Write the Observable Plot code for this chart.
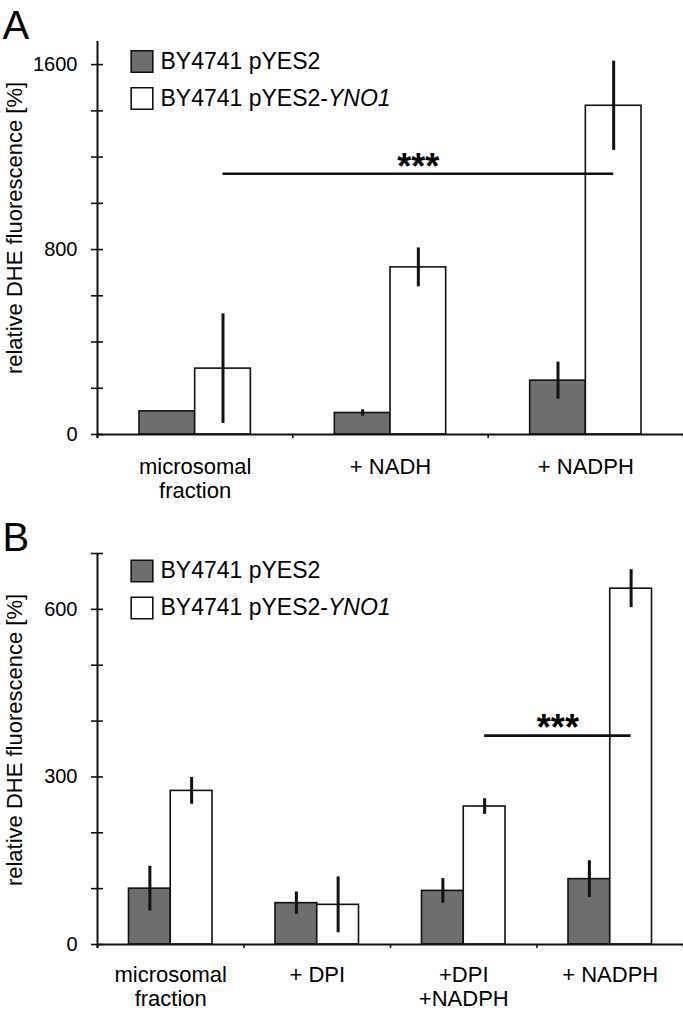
<!DOCTYPE html>
<html><head><meta charset="utf-8">
<script src="https://cdn.jsdelivr.net/npm/d3@7"></script>
<script src="https://cdn.jsdelivr.net/npm/@observablehq/plot@0.6"></script>
<style>
body{margin:0;background:#fff;}
#fig{width:683px;}
#fig svg{display:block;}
</style></head><body><div id="fig"></div>
<script>
// ---------- data ----------
const seriesNames = ["BY4741 pYES2", "BY4741 pYES2-YNO1"];
const yLabel = "relative DHE fluorescence [%]";

// Panel A
const catsA = ["microsomal\nfraction", "+ NADH", "+ NADPH"];
const ctrlA = [100, 93, 233];
const ctrlErrA = [0, 14, 80];
const ynoA = [285, 723, 1422];
const ynoErrA = [237, 84, 193];
const yTicksA = [0, 200, 400, 600, 800, 1000, 1200, 1400, 1600];
const yLabelsA = [0, 800, 1600];
const sigA = {from: 0, to: 2, y: 1128, text: "***"};

// Panel B
const catsB = ["microsomal\nfraction", "+ DPI", "+DPI\n+NADPH", "+ NADPH"];
const ctrlB = [100, 74, 96, 117];
const ctrlErrB = [40, 20, 22, 33];
const ynoB = [275, 71, 247, 637];
const ynoErrB = [24, 50, 14, 34];
const yTicksB = [0, 100, 200, 300, 400, 500, 600, 700];
const yLabelsB = [0, 300, 600];
const sigB = {from: 2, to: 3, y: 374, text: "***"};

// ---------- layout / style ----------
const FONT = "'Liberation Sans', Arial, Helvetica, sans-serif";
const GRAY = "#6e6e6e";
const INK = "#111";
const BAR_OFFSET = 0.215;   // left gap inside each category band
const BAR_W = 0.285;        // width of one bar as a share of the band

function panel(cfg) {
  const n = cfg.cats.length;
  const rows = [];
  cfg.cats.forEach((c, i) => {
    [[cfg.ctrl, cfg.ctrlErr], [cfg.yno, cfg.ynoErr]].forEach(([v, e], s) => {
      rows.push({cat: c, i, s, series: seriesNames[s], value: v[i], err: e[i]});
    });
  });
  const bx1 = d => d.i + BAR_OFFSET + d.s * BAR_W;
  const bx2 = d => bx1(d) + BAR_W;
  const bcx = d => bx1(d) + BAR_W / 2;
  const whiteCenter = i => i + BAR_OFFSET + 1.5 * BAR_W;

  const legendMarks = seriesNames.flatMap((name, k) => [
    Plot.dot([name], {frameAnchor: "top-left", dx: 44.5, dy: cfg.legendDy + k * 37,
      symbol: "square", r: 12.2, fill: d => d, stroke: INK, strokeWidth: 1.6}),
    Plot.text([name], {frameAnchor: "top-left", dx: 63, dy: cfg.legendDy + k * 37,
      textAnchor: "start", lineAnchor: "middle", fontSize: 23, fill: "#000"})
  ]);

  const chart = Plot.plot({
    width: 683,
    height: cfg.height,
    marginLeft: 97,
    marginRight: 0,
    marginTop: cfg.marginTop,
    marginBottom: cfg.marginBottom,
    style: {fontFamily: FONT, fontSize: "20px", background: "#fff", overflow: "visible", color: "#000"},
    x: {domain: [0, n], axis: null},
    y: {domain: [0, cfg.yMax], axis: null},
    color: {domain: seriesNames, range: [GRAY, "#ffffff"]},
    marks: [
      // bars
      Plot.rectY(rows, {x1: bx1, x2: bx2, y1: 0, y2: "value", fill: "series", stroke: INK, strokeWidth: 1.6}),
      // error bars
      Plot.ruleX(rows.filter(d => d.err > 0), {x: bcx, y1: d => d.value + d.err, y2: d => d.value - d.err,
        stroke: INK, strokeWidth: 3}),
      // x axis line and category boundary ticks
      Plot.ruleY([0], {stroke: INK, strokeWidth: 2}),
      Plot.ruleX(d3.range(n + 1), {x: d => d, y1: 0, y2: 0, insetBottom: -4, stroke: INK, strokeWidth: 1.6}),
      // y axis line with crossing ticks
      Plot.ruleX([0], {x: d => d, y1: cfg.yMax, y2: 0, insetBottom: -4, stroke: INK, strokeWidth: 2}),
      Plot.ruleY(cfg.yTicks, {y: d => d, x1: 0, x2: 0, insetLeft: -6, insetRight: -6, stroke: INK, strokeWidth: 1.6}),
      Plot.text(cfg.yLabels, {x: 0, y: d => d, text: d => String(d), dx: -20, textAnchor: "end", fontSize: 20}),
      // category labels
      Plot.text(cfg.cats, {x: (d, i) => i + 0.5, y: 0, text: d => d, dy: cfg.catDy, lineAnchor: "top",
        fontSize: 22, lineHeight: 1.1}),
      // significance
      Plot.ruleY([cfg.sig], {x1: d => whiteCenter(d.from), x2: d => whiteCenter(d.to), y: "y", stroke: INK, strokeWidth: 2.6}),
      Plot.text([cfg.sig], {x: d => (whiteCenter(d.from) + whiteCenter(d.to)) / 2, y: "y", text: "text",
        fontSize: 36, fontWeight: "bold", dy: cfg.starDy, lineAnchor: "middle"}),
      // legend
      ...legendMarks,
      // y axis title
      Plot.text([yLabel], {frameAnchor: "left", rotate: -90, dx: -83, dy: cfg.titleDy, fontSize: 22,
        textAnchor: "middle", lineAnchor: "middle"}),
      // panel letter
      Plot.text([cfg.letter], {frameAnchor: "top-left", dx: -95, dy: cfg.letterDy, fontSize: 40,
        textAnchor: "start", lineAnchor: "middle"})
    ]
  });

  // italic gene name in the legend
  d3.select(chart).selectAll("text").filter(function () {
    return this.textContent === seriesNames[1];
  }).each(function () {
    const t = d3.select(this);
    t.text(null);
    t.append("tspan").text("BY4741 pYES2-");
    t.append("tspan").attr("font-style", "italic").text("YNO1");
  });
  return chart;
}

const fig = document.getElementById("fig");
fig.appendChild(panel({
  cats: catsA, ctrl: ctrlA, ctrlErr: ctrlErrA, yno: ynoA, ynoErr: ynoErrA,
  yMax: 1700, yTicks: yTicksA, yLabels: yLabelsA, sig: sigA, letter: "A",
  height: 505, marginTop: 41, marginBottom: 71,
  catDy: 22, starDy: -6, legendDy: 20, titleDy: -10, letterDy: -15.8
}));
fig.appendChild(panel({
  cats: catsB, ctrl: ctrlB, ctrlErr: ctrlErrB, yno: ynoB, ynoErr: ynoErrB,
  yMax: 700, yTicks: yTicksB, yLabels: yLabelsB, sig: sigB, letter: "B",
  height: 506, marginTop: 48, marginBottom: 67,
  catDy: 20, starDy: -7, legendDy: 17.5, titleDy: -9, letterDy: -15.8
}));
</script>
</body></html>
